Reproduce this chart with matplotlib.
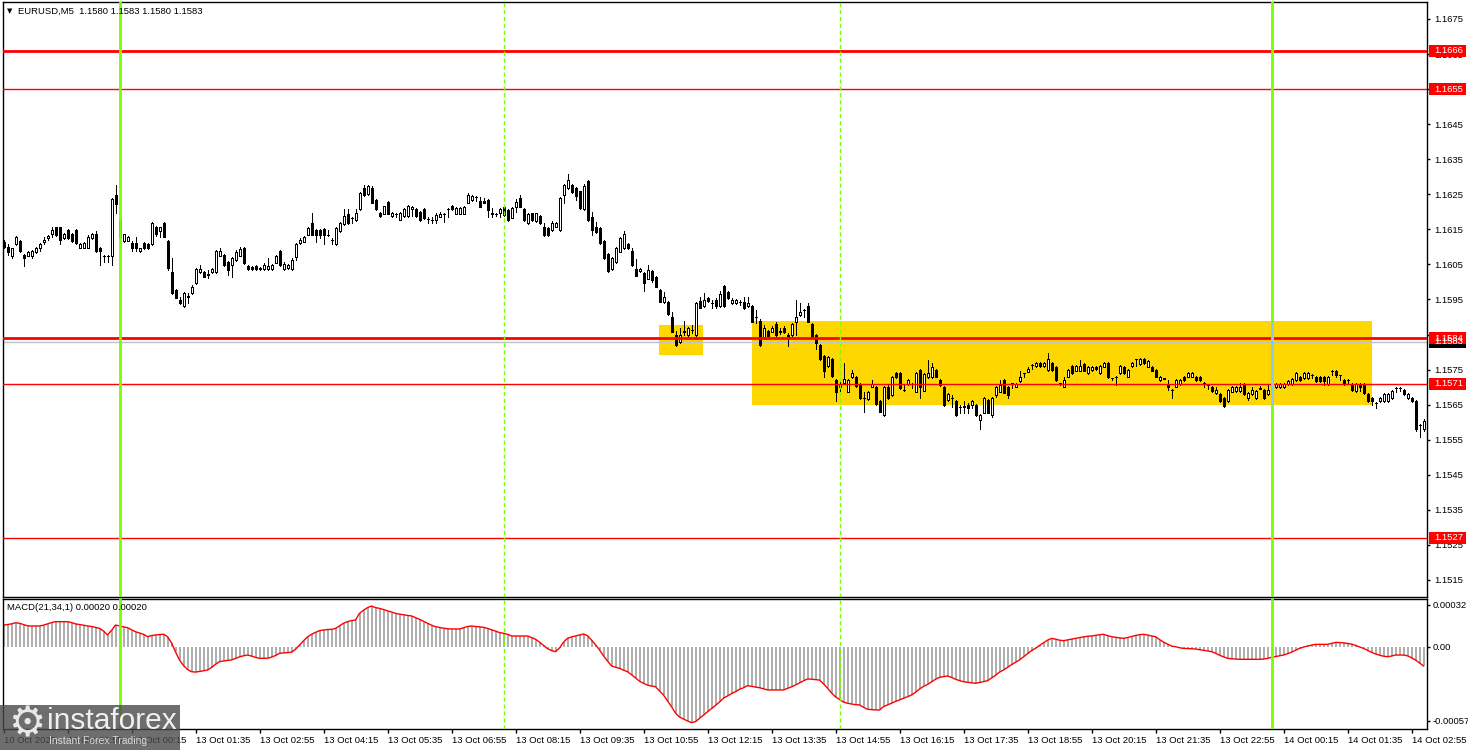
"""EURUSD M5 chart with support/resistance levels and MACD(21,34,1), MT4 style."""
import matplotlib
matplotlib.use("Agg")
import matplotlib.pyplot as plt
import matplotlib.transforms as mtransforms
from matplotlib.patches import Rectangle
import numpy as np

plt.rcParams["font.family"] = ["Liberation Sans", "DejaVu Sans"]

BASE = 1.15000     # candle values below are pips above this price
FIRST_BAR = -29    # bar 0 = 13 Oct 00:00, one bar = 5 minutes

opens = [
    111.5, 110.1, 107.5, 110.7, 111.7, 107.7, 107.5, 107.5, 108.6, 109.6,
    111.5, 112.6, 113.6, 115.6, 115.6, 112.6, 114.8, 113.6, 114.8, 109.8,
    109.8, 109.8, 112.6, 113.6, 109.8, 107.5, 107.5, 107.5, 124.8, 117.7,
    111.7, 111.8, 111.0, 111.0, 108.8, 111.0, 110.8, 110.7, 115.6, 114.5,
    116.7, 111.7, 102.9, 97.7, 94.9, 93.0, 95.8, 96.8, 99.6, 102.7,
    102.7, 102.0, 102.7, 102.7, 107.5, 107.7, 105.6, 104.8, 106.3, 107.5,
    109.6, 104.6, 104.2, 104.6, 104.0, 103.7, 103.7, 103.7, 105.5, 108.8,
    103.7, 104.1, 103.7, 107.0, 111.0, 111.5, 113.5, 116.7, 114.8, 114.8,
    115.0, 113.3, 111.9, 110.8, 114.6, 116.5, 119.5, 118.3, 117.6, 120.7,
    126.7, 125.1, 126.7, 123.5, 119.7, 119.5, 122.7, 118.8, 119.5, 117.8,
    118.8, 118.8, 120.7, 120.7, 120.0, 120.7, 118.0, 117.8, 117.6, 118.6,
    119.5, 120.7, 121.6, 119.5, 119.5, 119.5, 122.6, 123.5, 124.3, 123.1,
    123.0, 123.4, 119.6, 119.4, 119.6, 121.5, 120.5, 118.3, 121.5, 123.9,
    120.8, 116.7, 119.6, 117.4, 118.9, 115.8, 115.3, 114.8, 115.8, 114.8,
    124.8, 126.7, 127.7, 126.7, 125.8, 120.8, 128.8, 118.6, 115.8, 115.3,
    111.7, 107.9, 103.7, 105.6, 108.6, 109.6, 110.7, 108.8, 103.7, 103.0,
    102.5, 100.9, 103.1, 101.5, 97.7, 94.2, 94.4, 90.1, 84.9, 83.0,
    85.8, 84.9, 86.3, 84.9, 94.6, 93.0, 95.3, 94.0, 94.9, 93.0,
    98.9, 97.2, 93.9, 93.9, 94.4, 94.4, 93.0, 93.0, 90.1, 89.0,
    84.0, 86.1, 85.8, 88.0, 85.6, 86.8, 84.9, 84.9, 88.7, 90.6,
    92.0, 93.0, 88.0, 84.9, 82.0, 78.9, 76.0, 77.9, 72.0, 70.0,
    71.1, 68.7, 72.8, 72.8, 70.9, 66.8, 66.6, 70.1, 70.0, 66.1,
    62.1, 69.9, 67.8, 74.0, 74.0, 69.2, 70.9, 70.9, 68.7, 74.9,
    69.0, 72.8, 72.8, 74.9, 72.0, 70.1, 66.2, 66.8, 66.1, 64.4,
    64.4, 64.9, 64.9, 64.9, 60.6, 62.7, 66.3, 62.1, 67.8, 68.7,
    72.0, 69.9, 71.1, 70.1, 71.8, 73.9, 74.4, 76.3, 76.0, 77.0,
    76.0, 74.9, 77.0, 75.8, 71.1, 70.1, 73.0, 76.0, 74.7, 74.7,
    76.6, 73.9, 74.9, 75.8, 73.9, 75.8, 76.8, 72.5, 73.0, 73.9,
    75.8, 73.0, 76.0, 77.9, 76.6, 77.9, 75.8, 75.8, 74.9, 72.0,
    72.5, 70.9, 69.2, 70.1, 70.9, 73.0, 73.0, 73.0, 73.0, 73.0,
    71.1, 70.6, 70.1, 68.2, 67.9, 66.9, 66.0, 68.7, 68.9, 68.9,
    70.8, 66.8, 67.9, 66.8, 69.7, 69.2, 67.9, 70.1, 69.9, 69.9,
    69.9, 70.8, 70.8, 72.0, 73.0, 72.5, 72.5, 73.6, 73.0, 73.0,
    73.0, 70.8, 74.6, 74.6, 73.4, 72.0, 72.0, 70.8, 68.9, 70.8,
    70.8, 67.9, 67.0, 65.6, 65.9, 65.9, 65.9, 66.8, 69.8, 69.8,
    69.2, 66.8, 67.0, 66.0, 59.2, 58.1,
]
highs = [
    111.9, 110.7, 109.8, 113.1, 112.0, 107.9, 108.8, 109.2, 110.1, 111.0,
    112.7, 113.4, 115.6, 115.8, 115.8, 114.0, 115.2, 114.0, 115.0, 111.0,
    111.5, 113.4, 114.0, 114.5, 110.1, 107.7, 107.8, 124.0, 127.6, 119.6,
    113.8, 113.1, 111.8, 112.7, 109.8, 111.3, 111.0, 117.0, 116.0, 115.8,
    117.0, 112.0, 106.7, 98.0, 95.8, 97.0, 96.8, 99.0, 103.9, 104.8,
    103.0, 103.4, 104.0, 109.0, 109.8, 108.0, 106.0, 107.0, 109.0, 110.0,
    110.0, 104.8, 104.5, 104.8, 104.3, 105.5, 106.7, 105.0, 107.8, 109.0,
    105.8, 105.2, 106.7, 111.0, 112.4, 113.0, 115.7, 119.7, 115.0, 115.2,
    115.4, 114.8, 112.6, 115.8, 117.0, 120.7, 120.7, 118.5, 120.7, 125.7,
    127.6, 127.6, 127.4, 123.8, 120.0, 121.8, 123.0, 120.0, 119.8, 120.0,
    121.0, 121.9, 121.8, 121.0, 120.3, 121.0, 118.6, 118.6, 119.7, 120.0,
    119.7, 121.0, 121.9, 121.5, 121.5, 121.7, 125.4, 124.8, 124.5, 124.3,
    124.0, 123.8, 121.0, 119.8, 121.2, 121.8, 120.8, 121.3, 123.8, 124.8,
    121.0, 119.6, 119.8, 119.8, 119.2, 116.7, 115.6, 117.4, 117.0, 124.2,
    128.0, 130.7, 128.0, 127.0, 126.0, 127.8, 129.1, 120.0, 117.0, 115.6,
    112.0, 108.2, 107.0, 109.9, 112.9, 114.6, 111.0, 109.8, 106.5, 104.0,
    102.8, 104.9, 103.4, 101.8, 98.0, 97.2, 94.6, 91.4, 86.0, 86.8,
    88.9, 87.1, 87.7, 94.2, 95.6, 96.8, 95.6, 94.9, 95.3, 97.4,
    99.0, 97.5, 95.3, 95.2, 94.9, 95.8, 95.8, 93.3, 92.0, 89.3,
    87.7, 86.4, 87.3, 88.5, 86.8, 87.3, 85.4, 88.2, 94.9, 93.9,
    92.3, 93.9, 88.3, 85.2, 82.3, 79.2, 79.0, 78.2, 72.3, 72.0,
    76.8, 72.3, 75.0, 73.3, 71.2, 68.7, 69.0, 72.0, 70.3, 66.4,
    70.4, 70.9, 73.1, 74.3, 74.3, 70.6, 72.2, 71.1, 74.3, 75.2,
    74.1, 77.7, 76.8, 75.2, 72.3, 70.4, 68.3, 67.8, 66.4, 65.0,
    65.9, 65.4, 66.3, 65.2, 62.4, 67.1, 66.6, 67.3, 70.2, 72.0,
    72.3, 70.4, 71.3, 71.1, 74.7, 74.1, 75.8, 76.5, 77.3, 77.3,
    77.3, 79.8, 77.3, 76.1, 71.3, 73.0, 75.2, 76.3, 76.3, 77.7,
    76.9, 76.1, 76.1, 76.1, 76.3, 77.1, 77.1, 72.7, 73.2, 76.3,
    76.1, 75.2, 77.3, 78.1, 78.2, 78.2, 77.8, 76.1, 75.2, 73.3,
    72.7, 72.0, 69.4, 72.3, 72.3, 73.3, 74.2, 74.2, 73.3, 73.3,
    71.6, 70.8, 70.4, 70.1, 68.2, 67.2, 69.5, 70.4, 70.4, 71.1,
    71.1, 68.5, 70.1, 69.2, 70.4, 69.5, 70.8, 70.4, 71.1, 71.1,
    71.1, 72.0, 72.5, 74.2, 73.3, 74.2, 74.2, 73.8, 73.3, 73.3,
    73.3, 73.3, 74.8, 75.0, 73.6, 72.3, 72.2, 71.1, 71.1, 71.1,
    71.1, 68.2, 67.3, 65.8, 67.3, 68.2, 68.2, 69.2, 70.0, 70.0,
    69.5, 68.2, 67.3, 66.3, 59.4, 60.9,
]
lows = [
    109.6, 107.7, 106.7, 110.5, 108.6, 104.6, 107.3, 106.7, 108.2, 108.8,
    110.8, 112.0, 112.9, 113.2, 110.8, 112.3, 112.3, 111.5, 110.8, 109.6,
    109.6, 109.6, 112.3, 108.6, 104.8, 105.6, 105.6, 104.8, 119.6, 112.5,
    111.5, 111.6, 108.8, 108.8, 108.6, 109.4, 109.4, 110.5, 113.2, 112.9,
    112.7, 103.4, 96.5, 95.3, 93.7, 92.8, 93.9, 96.5, 99.4, 102.5,
    101.3, 101.0, 102.5, 102.5, 107.3, 104.6, 102.0, 101.5, 106.0, 107.3,
    105.0, 103.5, 103.5, 103.4, 103.4, 103.4, 103.4, 103.4, 105.3, 104.6,
    103.5, 103.8, 103.5, 106.3, 110.8, 111.3, 113.3, 113.3, 111.5, 112.6,
    110.8, 113.0, 110.8, 110.5, 114.3, 116.2, 116.5, 116.9, 117.4, 120.5,
    124.5, 124.9, 122.4, 120.5, 118.6, 119.3, 119.3, 118.6, 118.6, 117.6,
    118.6, 118.6, 118.8, 118.6, 117.4, 117.9, 116.9, 116.9, 116.9, 118.4,
    117.2, 118.6, 120.5, 119.3, 119.3, 119.3, 122.4, 123.2, 123.2, 121.3,
    122.4, 118.6, 118.6, 118.9, 118.6, 118.9, 117.5, 118.1, 120.0, 121.3,
    117.5, 116.5, 117.5, 117.2, 116.5, 113.2, 113.2, 114.6, 115.6, 114.6,
    122.4, 126.4, 125.4, 123.4, 120.8, 120.6, 117.5, 113.4, 114.0, 110.8,
    106.5, 102.8, 103.4, 105.4, 108.4, 109.4, 109.4, 104.5, 101.6, 102.8,
    97.5, 100.7, 100.0, 98.5, 94.2, 94.0, 90.6, 85.6, 81.8, 82.6,
    84.9, 84.6, 85.3, 84.7, 92.5, 92.8, 94.4, 92.5, 92.5, 92.8,
    92.8, 95.0, 93.7, 93.7, 93.4, 92.3, 92.8, 88.5, 88.2, 81.8,
    83.8, 84.4, 85.6, 84.6, 85.1, 85.4, 81.8, 84.6, 84.9, 90.3,
    90.1, 88.5, 84.0, 80.8, 77.7, 72.8, 75.8, 73.0, 65.9, 68.7,
    70.8, 68.5, 72.6, 70.1, 66.6, 63.0, 66.4, 69.9, 65.0, 62.8,
    61.9, 66.6, 67.6, 72.6, 69.5, 68.9, 70.7, 69.7, 68.5, 66.8,
    68.8, 72.6, 72.6, 72.8, 70.3, 64.7, 66.0, 64.4, 61.9, 62.5,
    62.5, 62.5, 64.0, 61.9, 58.0, 62.5, 62.5, 61.6, 67.3, 68.5,
    68.2, 66.8, 69.7, 69.9, 71.6, 72.8, 74.2, 75.1, 75.8, 75.8,
    75.8, 74.6, 74.6, 71.8, 70.6, 69.9, 72.8, 73.7, 74.5, 74.5,
    74.5, 73.7, 74.7, 74.9, 73.7, 75.6, 72.6, 72.0, 70.6, 73.7,
    73.7, 72.8, 75.8, 76.0, 76.4, 76.6, 75.6, 74.5, 72.8, 71.8,
    72.2, 69.2, 66.8, 69.9, 70.7, 71.8, 72.8, 72.8, 71.8, 71.8,
    70.1, 69.5, 68.7, 68.0, 65.7, 64.4, 65.8, 68.5, 68.7, 68.7,
    67.7, 66.3, 67.7, 66.6, 69.4, 66.6, 67.7, 69.0, 69.7, 69.7,
    69.7, 70.6, 70.6, 71.8, 71.8, 72.3, 72.3, 72.7, 71.5, 71.5,
    70.6, 70.6, 73.6, 72.9, 72.0, 70.6, 70.8, 69.0, 68.7, 68.9,
    68.0, 65.7, 64.9, 64.1, 65.7, 65.7, 65.7, 66.6, 68.7, 68.9,
    67.7, 66.6, 65.8, 57.5, 55.9, 57.5,
]
closes = [
    110.1, 108.6, 109.6, 112.7, 108.8, 106.7, 108.6, 108.8, 109.8, 110.8,
    112.0, 113.1, 114.8, 113.4, 112.0, 113.6, 112.6, 111.7, 111.0, 110.7,
    111.0, 112.9, 113.6, 108.8, 108.8, 107.5, 107.5, 123.7, 122.2, 112.9,
    113.6, 112.9, 109.6, 109.6, 109.6, 109.6, 109.6, 116.7, 113.6, 115.6,
    112.9, 103.9, 96.8, 95.5, 93.9, 96.8, 96.0, 98.7, 103.6, 103.6,
    101.5, 102.4, 103.6, 108.8, 108.8, 104.8, 103.4, 106.7, 108.6, 109.4,
    105.3, 103.7, 103.7, 103.7, 103.7, 104.8, 104.6, 104.8, 107.5, 104.8,
    105.0, 104.8, 106.4, 110.8, 111.9, 112.7, 115.4, 113.5, 113.5, 113.5,
    113.3, 113.3, 111.9, 115.5, 116.7, 118.8, 116.9, 118.2, 119.7, 125.4,
    124.8, 127.3, 122.6, 120.7, 118.8, 121.6, 119.5, 119.7, 119.5, 119.7,
    120.7, 121.6, 121.5, 118.8, 117.6, 118.1, 117.9, 117.7, 119.1, 119.5,
    119.5, 120.8, 120.7, 121.2, 121.2, 121.4, 124.8, 124.5, 124.3, 121.5,
    122.6, 120.5, 119.5, 119.4, 120.7, 119.1, 117.7, 121.0, 122.7, 121.5,
    117.7, 119.3, 117.7, 119.6, 116.7, 113.4, 113.4, 116.7, 116.7, 123.9,
    127.7, 129.1, 125.6, 124.6, 121.0, 127.5, 117.7, 114.8, 114.3, 111.0,
    106.7, 103.0, 106.7, 109.6, 112.6, 113.6, 109.6, 104.7, 101.8, 103.7,
    99.6, 103.4, 100.6, 98.7, 94.4, 95.8, 90.8, 85.8, 82.0, 84.9,
    85.9, 86.8, 86.3, 93.9, 92.7, 94.9, 94.6, 93.9, 93.0, 96.5,
    93.0, 95.3, 94.9, 94.9, 94.3, 92.5, 94.1, 88.7, 90.0, 82.0,
    86.8, 84.7, 86.8, 84.9, 86.1, 85.6, 84.2, 88.0, 89.9, 91.5,
    92.1, 88.7, 84.2, 82.7, 77.9, 74.7, 78.7, 73.2, 68.7, 70.6,
    72.2, 72.0, 74.0, 70.3, 66.8, 66.8, 68.7, 70.9, 65.2, 63.0,
    70.1, 66.8, 72.8, 72.8, 69.7, 69.2, 71.9, 70.9, 74.0, 70.0,
    73.8, 74.1, 75.8, 73.0, 70.6, 64.9, 68.0, 66.8, 62.1, 64.3,
    64.5, 64.0, 65.9, 62.1, 62.1, 66.8, 62.7, 66.8, 69.9, 70.6,
    68.4, 67.8, 71.1, 70.8, 73.0, 73.9, 75.1, 76.3, 77.0, 76.0,
    77.0, 78.0, 74.9, 72.0, 71.1, 72.0, 74.9, 73.9, 76.0, 76.0,
    74.7, 75.8, 75.8, 75.1, 76.0, 76.8, 72.8, 72.5, 73.0, 76.0,
    73.9, 74.9, 77.0, 77.9, 77.9, 76.8, 77.5, 74.7, 73.0, 73.0,
    72.4, 70.0, 69.2, 72.0, 72.0, 72.0, 73.9, 73.9, 72.0, 72.0,
    70.9, 70.6, 68.9, 69.2, 65.9, 64.7, 69.2, 70.1, 70.1, 70.1,
    67.9, 68.2, 69.2, 68.9, 69.6, 66.8, 69.2, 69.2, 70.8, 70.8,
    70.8, 71.7, 72.2, 73.9, 72.0, 73.9, 73.9, 73.6, 71.7, 71.7,
    71.7, 73.0, 74.6, 73.6, 73.4, 70.8, 72.0, 69.2, 70.8, 70.1,
    68.2, 65.9, 65.9, 65.6, 67.0, 67.9, 67.9, 68.9, 69.8, 69.8,
    67.9, 67.9, 66.0, 58.1, 59.2, 60.2,
]

# MACD(21,34,1) main value per bar, in units of 0.00001
macd = [
    16.6, 17.0, 17.5, 18.4, 18.0, 17.0, 16.0, 15.9, 15.9, 15.9,
    16.5, 17.5, 18.5, 19.2, 19.2, 19.2, 19.2, 18.5, 17.5, 17.0,
    16.5, 15.9, 15.5, 14.8, 14.1, 12.0, 9.0, 12.5, 16.6, 16.0,
    15.2, 14.6, 13.0, 11.5, 10.5, 9.5, 7.7, 8.5, 9.0, 9.3,
    9.6, 7.7, 3.0, -4.0, -10.2, -14.5, -17.5, -19.2, -19.5, -19.0,
    -18.5, -17.9, -16.0, -13.5, -11.5, -11.0, -10.5, -10.2, -9.0, -7.8,
    -7.0, -6.4, -7.2, -8.2, -8.9, -8.9, -8.9, -8.0, -6.8, -5.1,
    -4.8, -4.5, -4.3, -2.0, 1.3, 4.5, 7.5, 9.5, 11.0, 12.3,
    12.8, 13.2, 13.3, 14.0, 16.0, 18.0, 19.2, 20.0, 20.5, 25.6,
    28.0, 30.0, 31.2, 30.0, 29.4, 28.5, 27.5, 26.6, 25.6, 25.0,
    24.5, 24.0, 23.6, 22.3, 21.0, 19.5, 18.0, 16.5, 15.4, 14.8,
    14.2, 13.8, 13.6, 13.6, 13.6, 14.5, 15.5, 15.9, 15.5, 15.2,
    14.9, 14.0, 13.0, 12.0, 10.8, 10.3, 9.5, 8.2, 8.2, 8.2,
    8.2, 8.2, 7.0, 5.7, 3.5, 1.0, -1.5, -3.0, -3.8, -1.0,
    3.5, 6.4, 7.5, 8.2, 9.0, 9.7, 8.5, 5.1, 1.5, -2.5,
    -7.0, -11.0, -14.8, -15.8, -16.6, -18.0, -19.2, -21.5, -24.0, -26.5,
    -28.1, -29.5, -30.2, -30.7, -34.0, -37.1, -41.5, -46.0, -51.0, -54.0,
    -55.5, -57.0, -58.3, -57.5, -55.0, -52.5, -50.0, -47.5, -45.0, -42.5,
    -39.5, -37.8, -36.0, -34.5, -32.7, -31.5, -29.9, -30.4, -31.0, -31.5,
    -32.3, -33.2, -33.2, -33.2, -33.2, -33.2, -32.0, -30.8, -29.4, -27.8,
    -26.2, -24.8, -24.9, -25.3, -25.6, -28.5, -31.9, -35.5, -38.5, -40.5,
    -42.5, -43.4, -44.0, -44.5, -44.7, -46.5, -48.0, -48.3, -48.5, -48.6,
    -46.0, -44.7, -43.4, -42.0, -40.9, -39.6, -38.4, -37.1, -35.0, -32.5,
    -30.5, -29.0, -27.0, -25.0, -23.5, -23.0, -22.5, -23.5, -25.0, -26.0,
    -26.9, -27.3, -27.7, -28.1, -27.5, -26.8, -26.1, -24.0, -22.0, -19.5,
    -17.9, -15.8, -13.8, -12.0, -10.2, -7.8, -5.5, -3.0, -1.3, 1.0,
    3.0, 5.0, 6.4, 5.8, 5.0, 4.6, 5.2, 5.8, 6.4, 7.0,
    7.5, 8.0, 8.2, 8.7, 9.2, 9.5, 8.5, 7.7, 7.2, 6.8,
    6.4, 7.0, 7.8, 8.6, 9.2, 9.5, 9.0, 8.2, 7.7, 5.5,
    3.5, 2.0, 0.5, 0.0, -0.8, -1.3, -1.4, -1.6, -1.8, -2.3,
    -2.8, -3.3, -3.8, -5.0, -6.5, -7.8, -8.9, -9.3, -9.5, -9.7,
    -9.7, -9.7, -9.7, -9.7, -9.7, -9.5, -9.0, -8.2, -7.6, -7.0,
    -6.4, -5.4, -4.2, -2.8, -1.3, -0.3, 0.5, 1.2, 1.8, 1.8,
    1.8, 1.8, 2.5, 3.3, 3.2, 2.9, 2.5, 2.0, 1.0, -0.2,
    -1.3, -2.8, -4.3, -5.6, -6.5, -7.3, -7.7, -7.2, -6.4, -6.4,
    -6.4, -7.0, -8.5, -10.2, -12.5, -14.8,
]

thick_levels = [1.1666, 1.1584]
thin_levels = [1.1655, 1.1571, 1.1527]
bid_price = 1.1583

day_bars = [0, 288]         # 13 Oct 00:00, 14 Oct 00:00
session_bars = [96, 180]    # 08:00, 15:00

# yellow zones: bar range and price range (pips above BASE)
box_start = [134.9, 158.0]
box_end = [145.9, 313.0]
box_low = [79.2, 64.9]
box_high = [87.7, 88.9]

time_labels = [
    "10 Oct 2025", "10 Oct 22:55",
    "13 Oct 00:15", "13 Oct 01:35", "13 Oct 02:55", "13 Oct 04:15",
    "13 Oct 05:35", "13 Oct 06:55", "13 Oct 08:15", "13 Oct 09:35",
    "13 Oct 10:55", "13 Oct 12:15", "13 Oct 13:35", "13 Oct 14:55",
    "13 Oct 16:15", "13 Oct 17:35", "13 Oct 18:55", "13 Oct 20:15",
    "13 Oct 21:35", "13 Oct 22:55", "14 Oct 00:15", "14 Oct 01:35",
    "14 Oct 02:55",
]

FS = 6.8
GREEN = "#7CFC00"
PX = 0.72  # one screen pixel in points at dpi 100


def px(v):
    return BASE + np.asarray(v, dtype=float) / 10000.0


n = len(closes)
assert len(opens) == len(highs) == len(lows) == len(macd) == n
bars = np.arange(FIRST_BAR, FIRST_BAR + n)
o, h, l, c = px(opens), px(highs), px(lows), px(closes)

W, H = 1468, 750
fig = plt.figure(figsize=(W / 100, H / 100), dpi=100)
ax = fig.add_axes([2.5 / W, 1 - 596.5 / H, 1424.5 / W, 595 / H])
ax2 = fig.add_axes([2.5 / W, 1 - 729.3 / H, 1424.5 / W, 130.3 / H])

# 4 px per bar, bar centres on pixel centres
x_lo = FIRST_BAR - 0.25
for a in (ax, ax2):
    a.set_xlim(x_lo, x_lo + 1424.5 / 4)
    for s in a.spines.values():
        s.set_linewidth(1.0)
        s.set_color("black")
    a.yaxis.tick_right()
ax.set_ylim(1.151028, 1.167999)
ax2.set_ylim(-63.4, 36.6)

# zones
for x0, x1, y0, y1 in zip(box_start, box_end, box_low, box_high):
    ax.add_patch(Rectangle((x0, px(y0)), x1 - x0, px(y1) - px(y0),
                           fc="#FFD700", ec="none", zorder=1))

ax.axhline(bid_price, color="#C0C0C0", lw=1, zorder=1.5)

# candles: hollow = bullish, filled = bearish
up = c >= o
body_lo = np.minimum(o, c)
body_h = np.abs(c - o)
ax.vlines(bars, l, h, color="black", lw=PX, zorder=3, antialiased=False)
ax.bar(bars[up], body_h[up], bottom=body_lo[up], width=0.5,
       color="white", edgecolor="black", lw=PX, zorder=4,
       antialiased=False)
ax.bar(bars[~up], body_h[~up], bottom=body_lo[~up], width=0.5,
       color="black", edgecolor="black", lw=PX, zorder=4,
       antialiased=False)

for p in thick_levels:
    ax.axhline(p, color="#FF0000", lw=2, zorder=5)
for p in thin_levels:
    ax.axhline(p, color="#FF0000", lw=1, zorder=5)

# vertical day / session markers in both panels
for a in (ax, ax2):
    for b in day_bars:
        a.axvline(b, color=GREEN, lw=2, zorder=6)
    for b in session_bars:
        a.axvline(b, color=GREEN, lw=1, ls=(0, (3, 2)), zorder=6)
# where the day line crosses a zone, MT4 blends it to light blue
for b in day_bars:
    for x0, x1, y0, y1 in zip(box_start, box_end, box_low, box_high):
        if x0 <= b <= x1:
            ax.vlines(b, px(y0), px(y1), color="#8CCBEA", lw=2, zorder=6.5)

# price axis
ticks = np.round(np.arange(1.1515, 1.16751, 0.001), 4)
ax.set_yticks(ticks, labels=[f"{t:.4f}" for t in ticks])
ax.set_xticks([])
ax.tick_params(axis="y", length=2.5, width=1, pad=2.5, labelsize=FS)

trans = mtransforms.blended_transform_factory(ax.transAxes, ax.transData)
tag_h = 12 / 35060


def tag(price, fc):
    ax.add_patch(Rectangle((1.0014, price - tag_h / 2), 0.0257, tag_h,
                           transform=trans, fc=fc, ec="none",
                           clip_on=False, zorder=8))
    ax.text(1.0049, price, f"{price:.4f}", transform=trans, color="white",
            fontsize=FS, va="center", ha="left", zorder=9, clip_on=False)


tag(bid_price, "black")
for p in sorted(thick_levels + thin_levels):
    tag(p, "#FF0000")

# MACD panel
ax2.bar(bars, macd, width=0.5, color="#B0B0B0", zorder=1, antialiased=False)
ax2.plot(bars, macd, color="#FF0000", lw=1, zorder=2)
ax2.set_yticks([32, 0, -57], labels=["0.00032", "0.00", "-0.00057"])
label_bars = [FIRST_BAR] + [-13 + 16 * k for k in range(len(time_labels) - 1)]
ax2.set_xticks(label_bars, labels=time_labels)
for lab in ax2.get_xticklabels():
    lab.set_horizontalalignment("left")
ax2.tick_params(axis="x", length=3, width=1, pad=1.5, labelsize=FS)
ax2.tick_params(axis="y", length=2.5, width=1, pad=1.5, labelsize=FS)

# header texts
fig.text(7 / W, 1 - 11 / H, "\u25bc", fontsize=5, va="center",
         family=["DejaVu Sans"])
fig.text(18 / W, 1 - 11 / H, "EURUSD,M5  1.1580 1.1583 1.1580 1.1583",
         fontsize=FS, va="center")
fig.text(7 / W, 1 - 608 / H, "MACD(21,34,1) 0.00020 0.00020",
         fontsize=FS, va="center")

# broker watermark
fig.patches.append(Rectangle((0, 0), 180 / W, 45 / H, transform=fig.transFigure,
                             fc="#4a4a4a", ec="none", alpha=0.8, zorder=10))
fig.text(27 / W, 1 - 724 / H, "\u2699", fontsize=30, color="#e8e8e8",
         ha="center", va="center", family=["DejaVu Sans"], zorder=11)
fig.text(47 / W, 1 - 721 / H, "instaforex", fontsize=21.5, color="#f0f0f0",
         va="center", zorder=11)
fig.text(49 / W, 1 - 741 / H, "Instant Forex Trading", fontsize=7.5,
         color="#d8d8d8", va="center", zorder=11)

fig.savefig("out.png", dpi=100)
plt.close(fig)
